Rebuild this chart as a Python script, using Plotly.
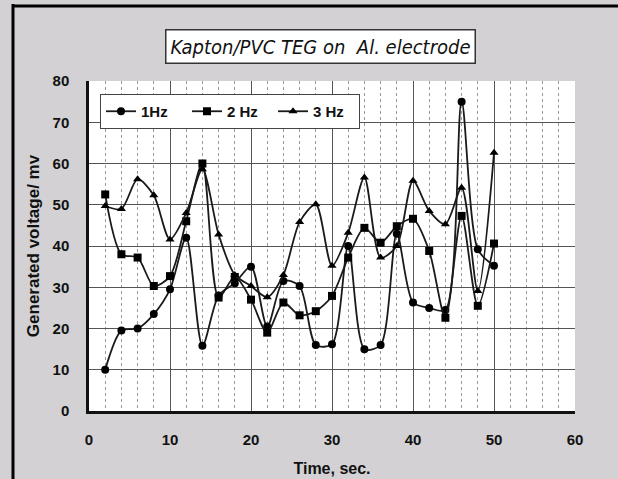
import plotly.graph_objects as go

time_s = [2, 4, 6, 8, 10, 12, 14, 16, 18, 20, 22, 24, 26, 28, 30, 32, 34, 36, 38, 40, 42, 44, 46, 48, 50]
hz1 = [10, 19.5, 20, 23.5, 29.5, 42, 15.8, 28, 31, 35, 20.5, 31.5, 30.3, 16, 16.2, 40, 15, 16, 43, 26.3, 25, 24.5, 75, 39.2, 35.2]
hz2 = [52.5, 38, 37.2, 30.3, 32.7, 46, 60, 27.5, 32.5, 27, 19, 26.3, 23.2, 24.2, 27.9, 37.2, 44.4, 40.8, 44.8, 46.6, 38.8, 22.6, 47.3, 25.5, 40.6]
hz3 = [49.7, 49, 56.2, 52.3, 41.6, 48, 58.6, 42.8, 33, 30.3, 27.6, 33, 45.8, 50.1, 35.2, 43.2, 56.6, 37.2, 40, 55.8, 48.5, 45.3, 54.1, 29.1, 62.6]

series_names = ["1Hz", "2 Hz", "3 Hz"]
symbols = ["circle", "square", "triangle-up"]
sizes = [8, 8, 8]

fig = go.Figure()
for name, ys, sym, sz in zip(series_names, [hz1, hz2, hz3], symbols, sizes):
    fig.add_trace(go.Scatter(
        x=time_s, y=ys, name=name, mode="lines+markers",
        line=dict(color="#1a1a1a", width=1.8, shape="spline", smoothing=0.8),
        marker=dict(symbol=sym, size=sz, color="#000000"),
    ))

PL, PR, PT, PB = 89, 575, 81, 411
W, H = 618, 479
pw, ph = PR - PL, PB - PT

def px(x):
    return (x - PL) / pw

def py(y):
    return (PB - y) / ph

font_main = "Arial, Liberation Sans, sans-serif"

fig.update_layout(
    width=W, height=H,
    margin=dict(l=PL, r=W - PR, t=PT, b=H - PB, autoexpand=False),
    paper_bgcolor="#d3d1d3",
    plot_bgcolor="#ffffff",
    showlegend=True,
    legend=dict(
        orientation="h", x=px(100), y=py(94), xanchor="left", yanchor="top",
        bgcolor="#ffffff", bordercolor="#444444", borderwidth=1,
        font=dict(family=font_main, size=15, color="#111111", weight="bold"),
        itemwidth=30, entrywidth=41, entrywidthmode="pixels", tracegroupgap=0,
    ),
    xaxis=dict(
        range=[0, 60], dtick=10, tick0=0, automargin=False,
        showgrid=True, gridcolor="#555555", gridwidth=1,
        minor=dict(dtick=2, showgrid=True, gridcolor="#9a9a9a", griddash="dot", gridwidth=1),
        showline=True, linecolor="#111111", linewidth=2.5,
        zeroline=False, ticks="", ticklabelstandoff=13,
        tickfont=dict(family=font_main, size=15, color="#111111", weight="bold"),
        title=dict(text="Time, sec.", standoff=17,
                   font=dict(family=font_main, size=16, color="#111111", weight="bold")),
    ),
    yaxis=dict(
        range=[0, 80], dtick=10, tick0=0, automargin=False,
        showgrid=True, gridcolor="#555555", gridwidth=1,
        showline=True, linecolor="#111111", linewidth=2.5,
        zeroline=False, ticks="", ticklabelstandoff=14,
        tickfont=dict(family=font_main, size=15, color="#111111", weight="bold"),
        title=dict(text="Generated voltage/ mv", standoff=9,
                   font=dict(family=font_main, size=17, color="#111111", weight="bold")),
    ),
    annotations=[dict(
        text="Kapton/PVC TEG on  Al. electrode",
        xref="paper", yref="paper", x=px(320.5), y=py(46),
        xanchor="center", yanchor="middle", showarrow=False,
        bgcolor="#ffffff", bordercolor="#333333", borderwidth=1.5, borderpad=4,
        font=dict(family="DejaVu Sans Condensed, Liberation Sans Narrow, Liberation Sans, sans-serif", size=20,
                  color="#111111", style="italic"),
    )],
    shapes=[
        dict(type="line", xref="paper", yref="paper", x0=px(13), x1=px(13), y0=py(4), y1=py(479),
             line=dict(color="#000000", width=3)),
        dict(type="line", xref="paper", yref="paper", x0=px(12), x1=px(618), y0=py(6), y1=py(6),
             line=dict(color="#000000", width=3)),
    ],
)

fig.write_html("out.html", config={"displayModeBar": False},
               post_script="document.body.style.margin='0';document.body.style.overflow='hidden';")
